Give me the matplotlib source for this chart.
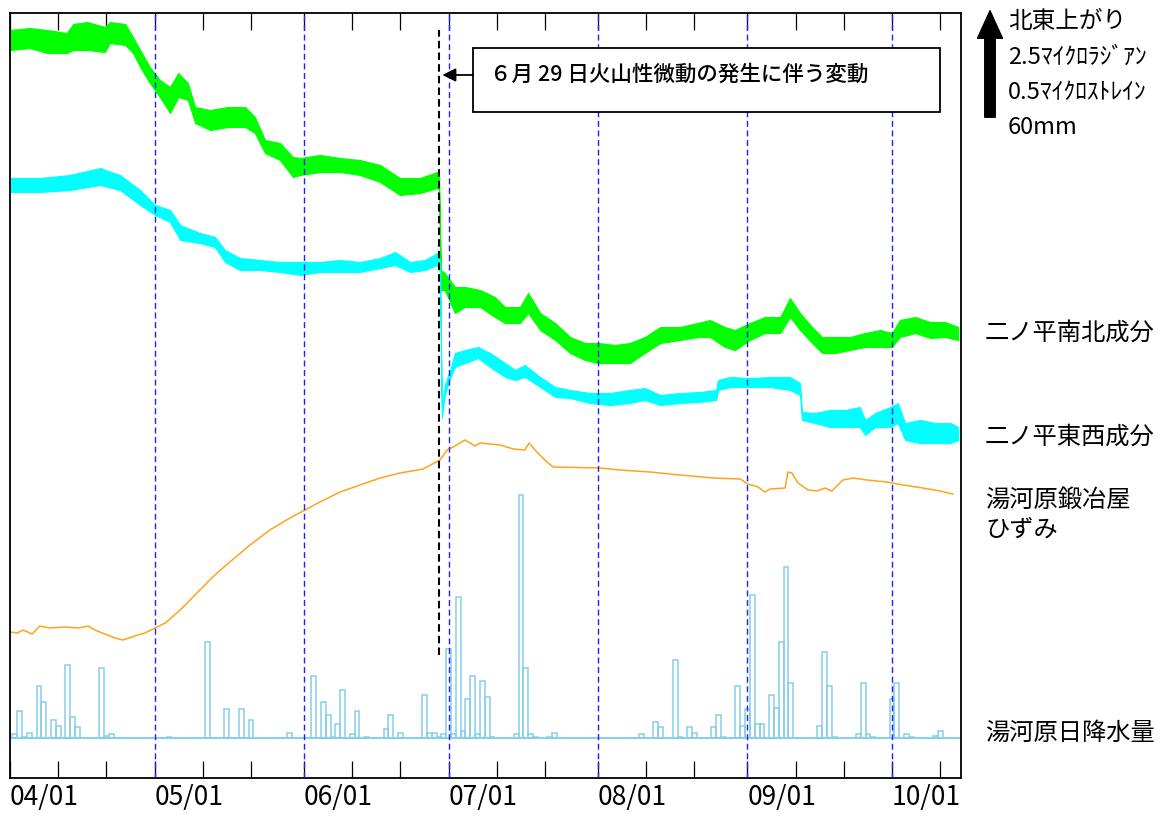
#!/usr/bin/env python3
# Hakone 2015: tilt (Ninotaira NS/EW), Yugawara strain and daily rain
import datetime as dt
import numpy as np
import matplotlib
matplotlib.use("Agg")
import matplotlib.pyplot as plt
from matplotlib.patches import Rectangle, FancyArrowPatch

# chart units: 1 unit = 1 px of plot height (arrow = 107 units)
START = dt.date(2015, 4, 1)
END_DAY = 197.3
EVENT = dt.date(2015, 6, 29)

# Ninotaira NS tilt, envelope (low / high) of the hourly trace
ns_days = [0, 4.1, 7.7, 11.8, 13.1, 16, 19.7, 20.7, 23.9, 25.5, 27, 29, 31.1, 33.2, 34.9,
           36.9, 38.4, 41.5, 45.2, 48.8, 50.8, 52.9, 56, 58.7, 60.2, 64.3, 68.5, 72.6, 76.8,
           80.9, 85.1, 88.6, 89.0, 89.4, 90.2, 92.3, 94.4, 97.5, 100.6, 102.7, 105.8, 107.5,
           110, 113.1, 116.2, 119.3, 122, 125.5, 128.6, 131.7, 134.9, 139, 142.7, 145.2,
           148.3, 150.4, 153.5, 156.6, 159.8, 161.8, 163.9, 166.4, 168.5, 171.2, 174.3,
           177.4, 180.5, 183, 184.6, 187.8, 190.9, 194, 196.7]
ns_hi = [748, 750, 748, 745, 754, 756, 751, 756, 754, 741, 728, 711, 698, 691, 705,
         695, 671, 668, 671, 671, 661, 638, 635, 621, 620, 623, 620, 618, 613,
         600, 600, 606, 602, 508, 505, 491, 491, 488, 481, 471, 471, 485,
         465, 455, 441, 435, 435, 433, 435, 441, 451, 451, 455, 458,
         451, 448, 455, 461, 461, 480, 465, 451, 441, 441, 441,
         445, 448, 445, 458, 461, 456, 456, 451]
ns_lo = [728, 730, 725, 725, 728, 728, 726, 735, 733, 725, 711, 695, 681, 665, 681,
         678, 655, 648, 651, 651, 645, 625, 618, 601, 603, 606, 606, 603, 596,
         583, 585, 590, 588, 488, 488, 465, 471, 471, 461, 455, 455, 465,
         448, 438, 425, 418, 415, 415, 415, 425, 435, 438, 441, 441,
         431, 428, 438, 445, 445, 461, 448, 435, 425, 425, 428,
         431, 431, 431, 441, 445, 440, 441, 438]

# Ninotaira EW tilt
ew_days = [0, 6.2, 12.4, 18.7, 22.8, 27, 30.1, 33.2, 35.3, 39.4, 42.5, 44.6, 47.7, 51.9,
           56, 60.2, 64.3, 68.5, 72.6, 76.8, 79.9, 83, 86.1, 88.6, 89.2, 89.6, 90.2, 91.3,
           92.3, 94.4, 97.1, 99.6, 102.7, 104.8, 106.8, 110, 113.1, 116.2, 120.3, 124.5,
           128.6, 131.7, 134.9, 139, 143.1, 146.5, 146.9, 149.4, 153.5, 157.7, 161.8,
           163.9, 164.3, 167, 170.1, 173.2, 176.3, 177.4, 179.5, 182.6, 184.2, 185.7,
           188.8, 192, 195.1, 196.7]
ew_hi = [600, 600, 603, 610, 603, 588, 573, 568, 553, 545, 541, 528, 520, 518,
         516, 516, 516, 518, 516, 520, 526, 516, 518, 525, 516, 368, 393, 408,
         425, 428, 431, 425, 415, 408, 413, 401, 391, 388, 385, 385,
         388, 390, 383, 385, 386, 388, 398, 401, 400, 401, 401,
         395, 366, 365, 368, 368, 371, 358, 365, 371, 375, 355,
         358, 355, 355, 351]
ew_lo = [586, 586, 588, 593, 588, 573, 563, 556, 538, 535, 531, 516, 508, 508,
         506, 503, 506, 506, 506, 510, 513, 506, 508, 513, 506, 360, 383, 400,
         411, 415, 420, 411, 401, 398, 401, 391, 381, 380, 375, 373,
         375, 378, 373, 375, 376, 378, 388, 391, 391, 391, 388,
         383, 358, 355, 351, 351, 351, 343, 351, 351, 355, 338,
         335, 335, 335, 338]

# Yugawara Kajiya strain
st_days = [0, 1.5, 2.7, 4.6, 6.2, 8.3, 11.4, 14.1, 16.2, 17.6, 19.7, 21.8, 23.4, 25.9, 28,
           30.1, 32.2, 35.3, 39.4, 42.5, 45.6, 49.8, 53.9, 58.1, 61.2, 64.3, 68.5, 72.6,
           76.8, 80.9, 85.7, 89.2, 90.7, 91.9, 94.4, 96.5, 97.5, 101.7, 104.4, 106.8,
           107.7, 109.3, 111.4, 112.7, 122.4, 126.6, 132.8, 139, 145.9, 151.5, 153.1,
           155.2, 156.6, 157.7, 160.8, 161.4, 162.2, 163.5, 165.6, 167.4, 169.1, 170.5,
           172.8, 174.9, 177.8, 181.9, 185.3, 189.4, 192.9, 195.6]
st_val = [146, 145, 148, 144, 152, 150, 151, 150, 152, 148, 144, 140, 138, 142, 145,
          150, 155, 168, 188, 203, 216, 233, 248, 260, 268, 276, 286, 293,
          300, 305, 309, 318, 328, 331, 338, 332, 335, 333, 329, 328,
          335, 326, 316, 311, 310, 308, 306, 303, 300, 299, 294,
          291, 286, 289, 290, 306, 305, 295, 288, 287, 290, 287,
          298, 300, 298, 296, 293, 290, 287, 284]

# Yugawara daily rain (mm)
rain_days = [0, 1, 2, 3, 5, 6, 8, 9, 11, 12, 13, 18, 19, 20, 32, 40, 44, 47, 49, 57,
             62, 64, 65, 66, 67, 68, 70, 71, 73, 77, 78, 80, 85, 86, 87, 88, 89, 90, 91, 92,
             93, 94, 95, 96, 97, 98, 99, 104, 105, 106, 107, 108, 111, 112, 130, 133, 134,
             137, 138, 140, 141, 145, 146, 147, 150, 151, 152, 153, 154, 155, 157, 158,
             159, 160, 161, 167, 168, 169, 170, 175, 176, 177, 178, 182, 183, 185, 186,
             191, 192]
rain_mm = [2, 15, 0.5, 3, 29, 20, 10, 7, 41, 12, 6, 39, 1, 2, 0.5, 54, 16, 16, 10, 3,
           35, 20, 13, 0.5, 8, 27, 2, 15, 0.5, 5, 13, 3, 24, 3, 3, 0.5, 2, 50, 2, 79,
           4, 22, 35, 2, 32, 23, 0.5, 2, 136, 39, 2, 0.5, 0.5, 3, 2, 9, 6,
           44, 0.5, 6, 3, 6, 13, 0.5, 29, 7, 16, 80, 8, 8, 24, 17,
           54, 96, 31, 7, 48, 29, 0.5, 2, 31, 2, 0.5, 22, 31, 2, 0.5,
           1, 4]
RAIN_BASE = 40
MM_SCALE = 107 / 60

plt.rcParams['font.family'] = ['Noto Sans CJK JP', 'DejaVu Sans']

fig = plt.figure(figsize=(11.7, 8.16), dpi=100)
ax = fig.add_axes([10 / 1170, 38 / 816, 951 / 1170, 765 / 816])

GREEN = '#00ff00'
CYAN = '#00ffff'
ax.fill_between(ns_days, ns_lo, ns_hi, facecolor=GREEN, edgecolor=GREEN, lw=0.8, zorder=2)
ax.fill_between(ew_days, ew_lo, ew_hi, facecolor=CYAN, edgecolor=CYAN, lw=0.8, zorder=2)
ax.plot(st_days, st_val, color='#ffa31a', lw=1.1, zorder=2)

rain_h = np.array(rain_mm) * MM_SCALE
ax.bar(np.array(rain_days) + 0.5, rain_h, width=1, bottom=RAIN_BASE, align='edge',
       fill=False, edgecolor='#87ceeb', lw=1.1, zorder=2)
ax.axhline(RAIN_BASE, color='#87ceeb', lw=1.4, zorder=2)

def day_of(d):
    return (d - START).days

months = [dt.date(2015, m, 1) for m in range(4, 11)]
for m in months[1:]:
    ax.axvline(day_of(m), color='#1f1fff', lw=1.0, ls=(0, (4.3, 2.6)), zorder=3)

# event line for 6/29
ev = day_of(EVENT)
ax.axvline(ev, ymin=0.161, ymax=0.978, color='black', lw=1.5, ls=(0, (3.6, 2.0)), zorder=4)

ax.add_patch(Rectangle((0.487, 0.8706), 0.491, 0.0837, transform=ax.transAxes,
                       facecolor='white', edgecolor='black', lw=1.3, zorder=5))
ax.text(0.505, 0.919, '６月 29 日火山性微動の発生に伴う変動', transform=ax.transAxes,
        ha='left', va='center', fontsize=15.5, fontweight='medium', zorder=6)
ax.annotate('', xy=(ev + 0.7, 0.919), xycoords=('data', 'axes fraction'),
            xytext=(0.487, 0.919), textcoords='axes fraction',
            arrowprops=dict(arrowstyle='-|>', color='black', lw=1.3,
                            mutation_scale=20, shrinkA=0, shrinkB=0), zorder=6)

minor = [day_of(dt.date(2015, m, d)) for m in range(4, 11) for d in (11, 21)]
ax.set_xlim(0, END_DAY)
ax.set_ylim(0, 765)
ax.set_xticks([day_of(m) for m in months])
ax.set_xticklabels([m.strftime('%m/%d') for m in months], ha='left', fontsize=19)
ax.set_xticks([x for x in minor if x < END_DAY], minor=True)
ax.tick_params(axis='x', which='both', direction='in', length=12, width=0.9,
               top=True, bottom=True, pad=4)
ax.set_yticks([])
for s in ax.spines.values():
    s.set_linewidth(1.3)

# right-hand labels
def ftext(x, y, s, size=17.5):
    fig.text(x / 1170, 1 - y / 816, s, va='center', ha='left', fontsize=size)

ftext(985, 333, '二ノ平南北成分')
ftext(985, 437, '二ノ平東西成分')
ftext(985, 500, '湯河原鍛冶屋')
ftext(985, 530, 'ひずみ')
ftext(985, 733, '湯河原日降水量')

fig.add_artist(FancyArrowPatch((990 / 1170, 1 - 120 / 816), (990 / 1170, 1 - 8 / 816),
                               transform=fig.transFigure, color='black',
                               arrowstyle='simple,head_width=1.0,head_length=1.1,tail_width=0.42',
                               mutation_scale=18))
ftext(1008, 22, '北東上がり', 17)
ftext(1008, 57, '2.5ﾏｲｸﾛﾗｼﾞｱﾝ', 17)
ftext(1008, 92, '0.5ﾏｲｸﾛｽﾄﾚｲﾝ', 17)
ftext(1008, 127, '60mm', 17)

fig.savefig('out.png', dpi=100)
